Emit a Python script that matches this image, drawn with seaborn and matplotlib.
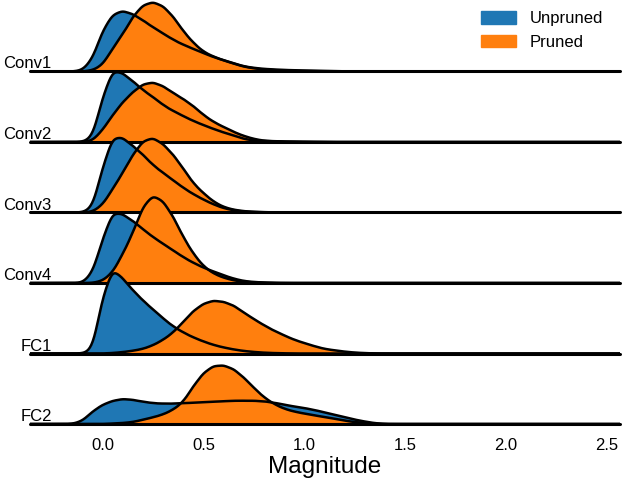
import numpy as np
import matplotlib
matplotlib.use("Agg")
import matplotlib.pyplot as plt
from matplotlib.patches import Patch
import seaborn as sns

# values: curve height (px above row baseline) at each magnitude
layers = ["Conv1", "Conv2", "Conv3", "Conv4", "FC1", "FC2"]
grid = [-0.15, -0.10, -0.05, 0.00, 0.05, 0.10, 0.15, 0.20, 0.25, 0.30, 0.35,
        0.40, 0.45, 0.50, 0.55, 0.60, 0.65, 0.70, 0.75, 0.80, 0.85, 0.90,
        0.95, 1.00, 1.05, 1.10, 1.15, 1.20, 1.25, 1.30, 1.35]

conv1_unpruned = [0, 1, 12, 40, 56, 59.5, 56, 50, 43, 37, 31, 26, 22, 18, 14, 11, 8, 5, 3.5, 2.5,
                  2, 1.5, 1.2, 1, 0.7, 0.5, 0.3, 0.2, 0.1, 0, 0]
conv1_pruned = [0, 0, 1, 6, 22, 35, 52, 63, 66, 62, 52, 38, 27, 18.5, 14, 10.5, 7.5, 4.5, 3, 1.8,
                1.2, 0.8, 0.6, 0.4, 0.3, 0.2, 0.1, 0, 0, 0, 0]
conv2_unpruned = [0, 0, 4, 45, 73, 69, 61, 52, 45, 37, 31, 26, 21, 17, 13, 9.5, 6.5, 3, 1.5, 1,
                  0.6, 0.4, 0.3, 0.2, 0.1, 0, 0, 0, 0, 0, 0]
conv2_pruned = [0, 0, 1, 12, 27, 40, 50, 58, 60, 56, 49, 43, 36, 27, 20, 15, 10, 6, 3, 1.2,
                0.8, 0.5, 0.3, 0.2, 0.1, 0, 0, 0, 0, 0, 0]
conv3_unpruned = [0, 0, 4, 42, 71, 70, 62, 54, 44, 37, 30, 23, 17, 12, 7.5, 4, 2, 0.8, 0.4, 0.2,
                  0.1, 0, 0, 0, 0, 0, 0, 0, 0, 0, 0]
conv3_pruned = [0, 0, 0.5, 7, 22, 37, 54, 67, 70, 64, 54, 41, 27, 18, 10, 5, 2.5, 1.2, 0.6, 0.3,
                0.1, 0, 0, 0, 0, 0, 0, 0, 0, 0, 0]
conv4_unpruned = [0, 0, 10, 46, 75, 72, 65, 56, 48, 41, 34, 27, 21, 16, 12, 8, 4.5, 2, 1, 0.5,
                  0.2, 0, 0, 0, 0, 0, 0, 0, 0, 0, 0]
conv4_pruned = [0, 0, 0, 2, 10, 28, 48, 74, 85, 79, 64, 44, 28, 16, 9, 5, 2.5, 1, 0.5, 0.2,
                0, 0, 0, 0, 0, 0, 0, 0, 0, 0, 0]
fc1_unpruned = [0, 0, 3, 57, 86, 75, 63, 53, 44, 35, 27, 21, 16, 12, 8.5, 6, 4, 2.5, 1.5, 0.8,
                0.4, 0.2, 0, 0, 0, 0, 0, 0, 0, 0, 0]
fc1_pruned = [0, 0, 0, 0, 0.5, 1.5, 3, 5, 9, 15, 23, 35, 47, 55, 58.5, 57, 53, 45, 38, 31,
              25, 20, 15, 11.5, 8, 5, 3.5, 2, 1, 0.4, 0.1]
fc2_unpruned = [0, 3, 13, 20, 24, 26, 25, 23, 21.5, 21, 21, 21.5, 22, 22.5, 23, 23.5, 24, 24, 24, 23.5,
                22, 20, 18, 16.5, 14.5, 12, 9.5, 7, 4.5, 2.5, 0.8]
fc2_pruned = [0, 0, 0, 0, 0.5, 1, 2, 4.5, 7, 10, 15, 23, 40, 54, 61.5, 62, 58, 49, 38, 28,
              21, 16, 13, 11, 9, 7.5, 5.5, 3.5, 2, 1, 0.4]

unpruned = [conv1_unpruned, conv2_unpruned, conv3_unpruned, conv4_unpruned, fc1_unpruned, fc2_unpruned]
pruned = [conv1_pruned, conv2_pruned, conv3_pruned, conv4_pruned, fc1_pruned, fc2_pruned]

sns.set_theme(style="white", rc={"axes.facecolor": (0, 0, 0, 0)})
plt.rcParams['font.family'] = ['Liberation Sans', 'DejaVu Sans']
plt.rcParams['text.color'] = 'black'
plt.rcParams['axes.labelcolor'] = 'black'
plt.rcParams['xtick.color'] = 'black'

BLUE = "#1f77b4"
ORANGE = "#ff7f0e"
W, H = 623, 486
first_base = 71.5   # px from top
row_step = 70.5
ax_h = 95           # px
px_per_density = 25.8
XLIM = (-0.36, 2.565)

x = np.array(grid)


def kde_kws(vals):
    # smooth the read-off heights with a narrow gaussian (sigma ~0.03)
    w = np.asarray(vals, float)
    keep = w > 0
    sd = np.sqrt(np.cov(x[keep], aweights=w[keep]))
    return dict(x=x[keep], weights=w[keep], bw_method=0.03 / sd,
                gridsize=800, cut=100, clip=XLIM)


fig = plt.figure(figsize=(W / 100, H / 100), dpi=100)
axes = []
for i, layer in enumerate(layers):
    base = first_base + row_step * i
    ax = fig.add_axes([30 / W, 1 - base / H, 590 / W, ax_h / H])
    sns.kdeplot(**kde_kws(unpruned[i]), fill=True, color=BLUE, alpha=1, linewidth=0, ax=ax)
    sns.kdeplot(**kde_kws(pruned[i]), fill=True, color=ORANGE, alpha=1, linewidth=0, ax=ax)
    sns.kdeplot(**kde_kws(unpruned[i]), color="black", linewidth=1.8, ax=ax)
    sns.kdeplot(**kde_kws(pruned[i]), color="black", linewidth=1.8, ax=ax)
    ax.axhline(0, color="black", linewidth=2.2, clip_on=False)
    ax.set_xlim(*XLIM)
    ax.set_ylim(0, ax_h / px_per_density)
    ax.set_yticks([])
    ax.set_ylabel("")
    ax.set_xlabel("")
    for s in ax.spines.values():
        s.set_visible(False)
    ax.text(0.037, 3 / ax_h, layer, ha="right", va="baseline", fontsize=12,
            color="black", transform=ax.transAxes)
    if i < len(layers) - 1:
        ax.set_xticks([])
    axes.append(ax)

ax = axes[-1]
ax.set_xticks([0, 0.5, 1.0, 1.5, 2.0, 2.5])
ax.set_xticklabels(["0.0", "0.5", "1.0", "1.5", "2.0", "2.5"])
ax.tick_params(axis="x", length=0, pad=10, labelsize=12, labelcolor="black")
ax.set_xlabel("Magnitude", fontsize=17.5, labelpad=2, color="black")

handles = [Patch(facecolor=BLUE, edgecolor=BLUE, label="Unpruned"),
           Patch(facecolor=ORANGE, edgecolor=ORANGE, label="Pruned")]
fig.legend(handles=handles, loc="upper right", bbox_to_anchor=(618 / W, 1.008),
           frameon=False, fontsize=12, handlelength=2.1, handleheight=0.8,
           labelcolor="black")

fig.savefig("out.png", dpi=100)
